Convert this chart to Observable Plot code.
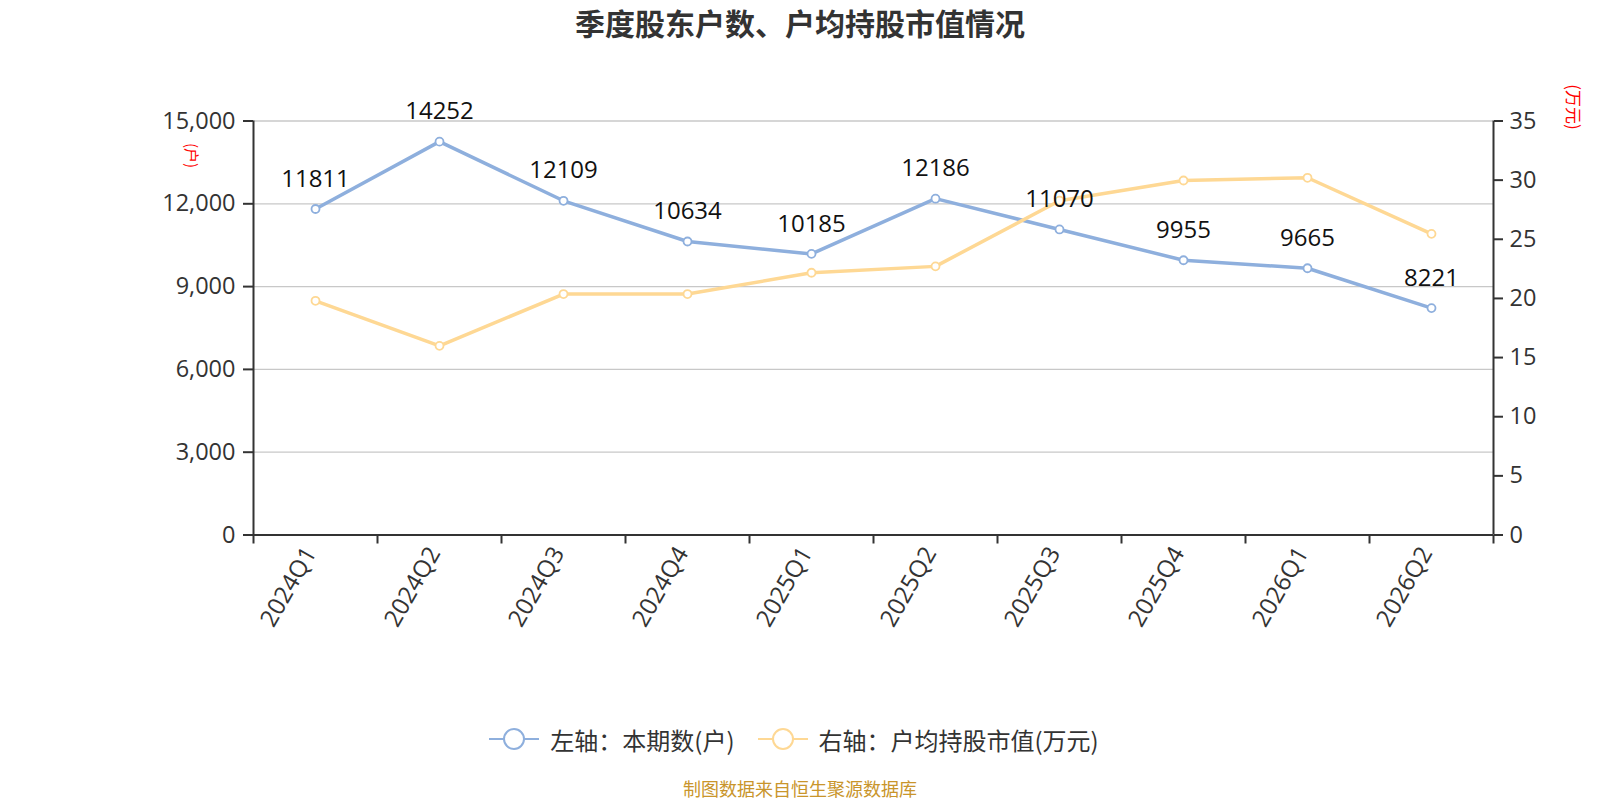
<!DOCTYPE html>
<html>
<head>
<meta charset="utf-8">
<script src="https://cdn.jsdelivr.net/npm/d3@7"></script>
<script src="https://cdn.jsdelivr.net/npm/@observablehq/plot@0.6"></script>
<style>
  body { margin: 0; background: #fff; }
  #wrap { position: relative; width: 1600px; height: 800px; overflow: hidden; background: #fff; }
  #title { position: absolute; top: 0; left: 0; width: 1600px; height: 44px; line-height: 44px; text-align: center;
           font-family: "Noto Sans CJK SC", sans-serif; font-weight: bold; font-size: 30px; color: #333; }
  #chart { position: absolute; top: 50px; left: 0; }
  #legend { position: absolute; top: 722px; left: -6px; width: 1600px; height: 34px; display: flex; justify-content: center; align-items: center;
            font-family: "Noto Sans CJK SC", sans-serif; font-size: 24px; color: #333; }
  #legend .item { display: flex; align-items: center; }
  #legend .item + .item { margin-left: 23px; }
  #legend svg { margin-right: 11px; }
  #caption { position: absolute; top: 777px; left: 0; width: 1600px; height: 22px; line-height: 22px; text-align: center;
             font-family: "Noto Sans CJK SC", sans-serif; font-size: 18px; color: #c9952b; }
</style>
</head>
<body>
<div id="wrap">
  <div id="title"></div>
  <div id="chart"></div>
  <div id="legend"></div>
  <div id="caption"></div>
</div>
<script>
const titleText = "季度股东户数、户均持股市值情况";
const captionText = "制图数据来自恒生聚源数据库";
const categories = ["2024Q1","2024Q2","2024Q3","2024Q4","2025Q1","2025Q2","2025Q3","2025Q4","2026Q1","2026Q2"];
const households = [11811, 14252, 12109, 10634, 10185, 12186, 11070, 9955, 9665, 8221];
const avgValue = [19.80, 15.99, 20.37, 20.37, 22.17, 22.71, 28.26, 29.97, 30.20, 25.46];
const leftTicks = [0, 3000, 6000, 9000, 12000, 15000];
const rightTicks = [0, 5, 10, 15, 20, 25, 30, 35];
const seriesNames = ["左轴：本期数(户)", "右轴：户均持股市值(万元)"];
const leftUnit = "(户)";
const rightUnit = "(万元)";

const blue = "#8eafdd";
const yellow = "#fed894";
const leftMax = 15000, rightMax = 35;
const k = leftMax / rightMax;

const rows = categories.map((q, i) => ({ q, i, h: households[i], v: avgValue[i] }));
const font = '"Open Sans", "Noto Sans CJK SC", sans-serif';

const chart = Plot.plot({
  width: 1600,
  height: 640,
  marginLeft: 253,
  marginRight: 107,
  marginTop: 70.5,
  marginBottom: 155.5,
  style: { fontFamily: font, fontSize: "23px", color: "#333", background: "transparent" },
  x: { type: "linear", domain: [0, categories.length], axis: null },
  y: { domain: [0, leftMax], axis: null },
  marks: [
    Plot.gridY(leftTicks.slice(1), { stroke: "#c8c8c8", strokeOpacity: 1, strokeWidth: 1.3 }),
    Plot.axisY({ anchor: "left", ticks: leftTicks, tickFormat: d3.format(","), tickSize: 10, tickPadding: 8,
                 fontSize: 23.5, label: null, strokeWidth: 2 }),
    Plot.axisY({ anchor: "right", ticks: rightTicks.map(v => v * k), tickFormat: d => String(Math.round(d / k)),
                 tickSize: 9, tickPadding: 7, fontSize: 23.5, label: null, strokeWidth: 2 }),
    Plot.axisX({ ticks: d3.range(categories.length + 1), tickFormat: () => "", tickSize: 9, label: null, strokeWidth: 2 }),
    Plot.axisX({ ticks: categories.map((c, i) => i + 0.5), tickFormat: d => categories[Math.floor(d)],
                 tickSize: 0, tickPadding: 14, tickRotate: -60, fontSize: 24, dx: -5, label: null }),
    Plot.ruleX([0, categories.length], { stroke: "#333", strokeWidth: 2 }),
    Plot.ruleY([0], { stroke: "#333", strokeWidth: 2 }),
    Plot.line(rows, { x: d => d.i + 0.5, y: "h", stroke: blue, strokeWidth: 3.5 }),
    Plot.dot(rows, { x: d => d.i + 0.5, y: "h", r: 4, fill: "#fff", stroke: blue, strokeWidth: 1.8 }),
    Plot.line(rows, { x: d => d.i + 0.5, y: d => d.v * k, stroke: yellow, strokeWidth: 3.5 }),
    Plot.dot(rows, { x: d => d.i + 0.5, y: d => d.v * k, r: 4, fill: "#fff", stroke: yellow, strokeWidth: 1.8 }),
    Plot.text(rows, { x: d => d.i + 0.5, y: "h", text: d => String(d.h), dy: -30, fontSize: 24, fill: "#111" }),
    Plot.text([leftUnit], { frameAnchor: "top-left", textAnchor: "middle", lineAnchor: "middle", dx: -63, dy: 34.5,
                            rotate: 90, fill: "red", fontSize: 15, fontFamily: "Noto Sans CJK SC" }),
    Plot.text([rightUnit], { frameAnchor: "top-right", textAnchor: "middle", lineAnchor: "middle", dx: 79, dy: -14,
                             rotate: 90, fill: "red", fontSize: 17, fontFamily: "Noto Sans CJK SC" })
  ]
});
document.getElementById("chart").appendChild(chart);
document.getElementById("title").textContent = titleText;
document.getElementById("caption").textContent = captionText;

const legend = document.getElementById("legend");
[blue, yellow].forEach((c, i) => {
  const item = document.createElement("div");
  item.className = "item";
  item.innerHTML = `<svg width="50" height="26"><line x1="0" x2="50" y1="13" y2="13" stroke="${c}" stroke-width="2"/>` +
    `<circle cx="25" cy="13" r="10" fill="#fff" stroke="${c}" stroke-width="2"/></svg><span></span>`;
  item.querySelector("span").textContent = seriesNames[i];
  legend.appendChild(item);
});
</script>
</body>
</html>
